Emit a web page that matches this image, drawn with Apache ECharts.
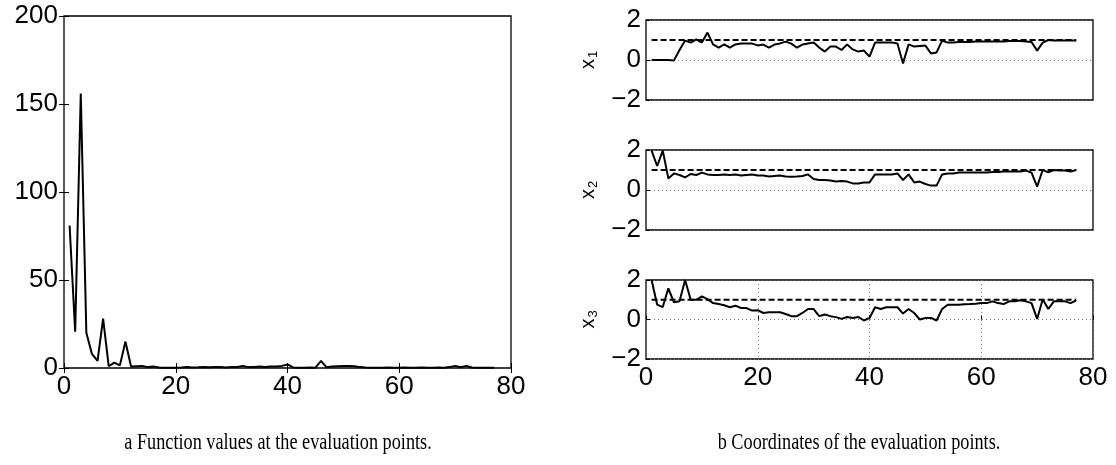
<!DOCTYPE html>
<html>
<head>
<meta charset="utf-8">
<script src="https://cdn.jsdelivr.net/npm/echarts@6/dist/echarts.min.js"></script>
<style>
html,body{margin:0;padding:0;background:#fff;}
#chart{width:1116px;height:465px;}
</style>
</head>
<body>
<div id="chart"></div>
<script>
// ---- data ----
var evalIndex = [];
for (var i = 1; i <= 77; i++) evalIndex.push(i);

var fValues = [81, 20.6, 156, 20, 8, 4, 28, 1, 3, 1.5,
  15, 0.8, 1, 1.2, 0.5, 0.8, 0.3, 0.2, 0.2, 0.2,
  0.3, 0.5, 0.3, 0.4, 0.6, 0.4, 0.6, 0.5, 0.3, 0.5,
  0.6, 1.2, 0.5, 0.6, 0.8, 0.6, 0.8, 0.9, 1.2, 2,
  0.3, 0.2, 0.2, 0.3, 0.2, 4, 0.4, 0.8, 1, 1.1,
  1.1, 1, 0.5, 0.3, 0.2, 0.2, 0.2, 0.3, 0.2, 0.2,
  0.3, 0.2, 0.2, 0.3, 0.2, 0.2, 0.3, 0.2, 0.5, 1.2,
  0.4, 1.2, 0.3, 0.2, 0.2, 0.2, 0.2];

var x1Values = [0, 0, 0, 0, -0.02, 0.5, 0.97, 0.87, 1.03, 0.87,
  1.37, 0.78, 0.62, 0.78, 0.62, 0.78, 0.82, 0.82, 0.82, 0.73,
  0.77, 0.62, 0.77, 0.83, 0.92, 0.82, 0.62, 0.77, 0.82, 0.87,
  0.62, 0.42, 0.67, 0.67, 0.5, 0.78, 0.53, 0.42, 0.47, 0.17,
  0.87, 0.87, 0.87, 0.88, 0.83, -0.17, 0.78, 0.67, 0.7, 0.72,
  0.33, 0.38, 0.97, 0.87, 0.88, 0.9, 0.9, 0.9, 0.92, 0.92,
  0.92, 0.93, 0.93, 0.93, 0.95, 0.95, 0.95, 0.93, 0.9, 0.47,
  0.87, 1.0, 0.97, 0.97, 0.97, 0.97, 0.97];

var x2Values = [1.97, 1.2, 1.97, 0.58, 0.83, 0.75, 0.63, 0.8, 0.75, 0.87,
  0.78, 0.75, 0.75, 0.78, 0.75, 0.77, 0.72, 0.75, 0.78, 0.72,
  0.72, 0.68, 0.7, 0.72, 0.68, 0.66, 0.67, 0.7, 0.78, 0.55,
  0.5, 0.5, 0.47, 0.42, 0.45, 0.42, 0.33, 0.33, 0.37, 0.38,
  0.78, 0.78, 0.78, 0.78, 0.83, 0.5, 0.78, 0.38, 0.42, 0.3,
  0.22, 0.22, 0.78, 0.83, 0.83, 0.88, 0.87, 0.87, 0.88, 0.88,
  0.88, 0.9, 0.9, 0.92, 0.92, 0.93, 0.93, 0.97, 0.87, 0.17,
  1.0, 0.88, 1.0, 0.97, 0.97, 0.92, 1.0];

var x3Values = [2.0, 0.75, 0.63, 1.58, 0.87, 0.92, 2.0, 1.0, 1.0, 1.17,
  1.03, 0.83, 0.78, 0.72, 0.62, 0.7, 0.58, 0.58, 0.45, 0.47,
  0.33, 0.37, 0.37, 0.37, 0.28, 0.17, 0.17, 0.33, 0.53, 0.53,
  0.17, 0.25, 0.17, 0.12, 0.03, 0.13, 0.08, 0.13, -0.05, 0.08,
  0.62, 0.53, 0.62, 0.62, 0.62, 0.3, 0.53, 0.33, 0.0, 0.08,
  0.08, -0.05, 0.53, 0.75, 0.75, 0.75, 0.77, 0.78, 0.8, 0.83,
  0.83, 0.92, 0.83, 0.78, 0.92, 0.92, 0.97, 0.92, 0.83, 0.03,
  1.03, 0.53, 0.92, 0.92, 0.92, 0.83, 0.97];

var optimum = [1, 1, 1];          // reference value drawn dashed in each panel
var coordNames = ['1', '2', '3']; // subscripts of x
var captions = ['a Function values at the evaluation points.',
                'b Coordinates of the evaluation points.'];

// ---- chart ----
var chart = echarts.init(document.getElementById('chart'), null, {renderer: 'canvas'});
var FONT = '"Liberation Sans", Arial, Helvetica, sans-serif';
var minus = function (v) { return String(v).replace('-', '\u2212'); };
var pairs = function (ys) { return ys.map(function (y, k) { return [evalIndex[k], y]; }); };

var grids = [
  {left: 64, top: 16, width: 447, height: 352},
  {left: 646, top: 20, width: 447, height: 80},
  {left: 646, top: 150, width: 447, height: 80},
  {left: 646, top: 280, width: 447, height: 79}
];
grids.forEach(function (g) { g.show = true; g.borderColor = '#000'; g.borderWidth = 1.3; g.backgroundColor = 'transparent'; });

var xAxes = [], yAxes = [], series = [];
var dotted = {show: true, lineStyle: {color: '#777', type: [1, 3], width: 1}};

// left chart
xAxes.push({gridIndex: 0, type: 'value', min: 0, max: 80, interval: 20,
  axisLine: {show: false}, axisTick: {inside: true, length: 5, lineStyle: {color: '#000'}},
  axisLabel: {color: '#000', fontFamily: FONT, fontSize: 26, margin: 6}, splitLine: {show: false}});
xAxes.push({gridIndex: 0, type: 'value', position: 'top', min: 0, max: 80, interval: 20,
  axisLine: {show: false}, axisTick: {inside: true, length: 5, lineStyle: {color: '#000'}},
  axisLabel: {show: false}, splitLine: {show: false}});
yAxes.push({gridIndex: 0, type: 'value', min: 0, max: 200, interval: 50,
  axisLine: {show: false}, axisTick: {inside: true, length: 5, lineStyle: {color: '#000'}},
  axisLabel: {color: '#000', fontFamily: FONT, fontSize: 26, margin: 6}, splitLine: {show: false}});
yAxes.push({gridIndex: 0, type: 'value', position: 'right', min: 0, max: 200, interval: 50,
  axisLine: {show: false}, axisTick: {inside: true, length: 5, lineStyle: {color: '#000'}},
  axisLabel: {show: false}, splitLine: {show: false}});
series.push({type: 'line', xAxisIndex: 0, yAxisIndex: 0, data: pairs(fValues), showSymbol: false,
  lineStyle: {color: '#000', width: 2}, animation: false});

// right panels
var coordSeries = [x1Values, x2Values, x3Values];
for (var p = 0; p < 3; p++) {
  var gi = p + 1;
  var last = p === 2;
  var xi = xAxes.length, yi = yAxes.length;
  xAxes.push({gridIndex: gi, type: 'value', min: 0, max: 80, interval: 20,
    axisLine: {show: false}, axisTick: {show: last, inside: true, length: 4, lineStyle: {color: '#000'}},
    axisLabel: {show: last, color: '#000', fontFamily: FONT, fontSize: 26, margin: 6},
    splitLine: last ? dotted : {show: false}});
  yAxes.push({gridIndex: gi, type: 'value', min: -2, max: 2, interval: 2,
    axisLine: {show: false}, axisTick: {inside: true, length: 4, lineStyle: {color: '#000'}},
    axisLabel: {color: '#000', fontFamily: FONT, fontSize: 26, margin: 5, formatter: minus},
    splitLine: dotted,
    name: '{x|x}{s|' + coordNames[p] + '}', nameLocation: 'middle', nameGap: 46, nameRotate: 90,
    nameTextStyle: {rich: {
      x: {fontFamily: FONT, fontSize: 20, color: '#000'},
      s: {fontFamily: FONT, fontSize: 13, color: '#000', padding: [10, 0, 0, 1]}
    }}});
  series.push({type: 'line', xAxisIndex: xi, yAxisIndex: yi,
    data: [[evalIndex[0], optimum[p]], [evalIndex[evalIndex.length - 1], optimum[p]]],
    showSymbol: false, lineStyle: {color: '#000', width: 2, type: [6, 3]}, animation: false});
  series.push({type: 'line', xAxisIndex: xi, yAxisIndex: yi, data: pairs(coordSeries[p]),
    showSymbol: false, lineStyle: {color: '#000', width: 2}, animation: false});
}

var capFont = '"Liberation Serif", "Times New Roman", serif';
chart.setOption({
  backgroundColor: '#fff',
  animation: false,
  grid: grids,
  xAxis: xAxes,
  yAxis: yAxes,
  series: series,
  graphic: [
    {type: 'text', x: 278, y: 443, scaleX: 0.76,
      style: {text: captions[0], fontFamily: capFont, fontSize: 24, fill: '#000', align: 'center', verticalAlign: 'middle'}},
    {type: 'text', x: 859, y: 443, scaleX: 0.76,
      style: {text: captions[1], fontFamily: capFont, fontSize: 24, fill: '#000', align: 'center', verticalAlign: 'middle'}}
  ]
});
</script>
</body>
</html>
